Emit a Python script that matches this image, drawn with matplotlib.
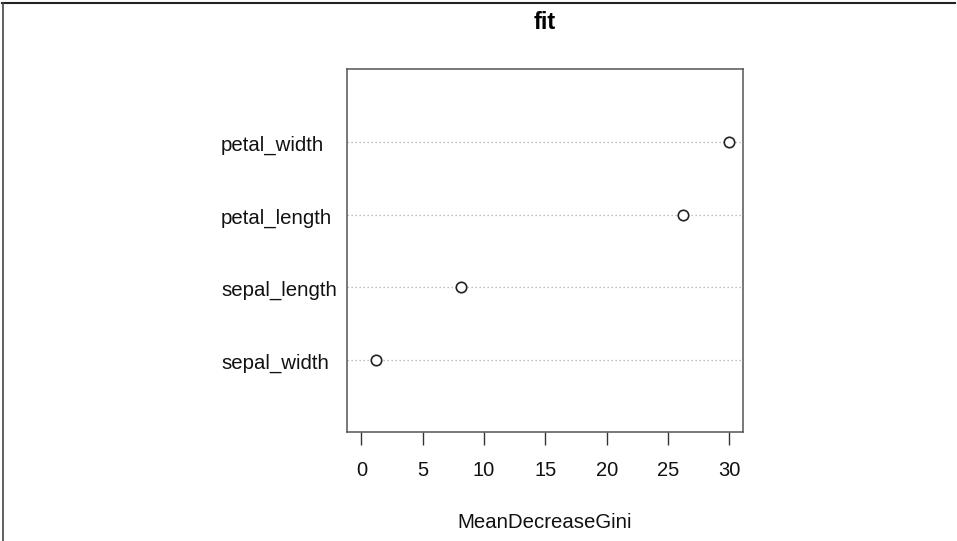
import matplotlib.pyplot as plt
import matplotlib.transforms as mtransforms
from matplotlib.lines import Line2D

plt.rcParams['font.family'] = ['Liberation Sans', 'DejaVu Sans']

# variable importance (bottom to top, as drawn)
features = ['sepal_width', 'sepal_length', 'petal_length', 'petal_width']
gini = [1.2, 8.1, 26.2, 29.93]
xticks = [0, 5, 10, 15, 20, 25, 30]

fig = plt.figure(figsize=(9.57, 5.41), dpi=100)
ax = fig.add_axes([0.3623, 0.2009, 0.4144, 0.6710])

ypos = list(range(1, len(features) + 1))

# dotted guide lines
for y in ypos:
    ax.axhline(y, color='#aaaaaa', lw=0.9, ls=(0, (1, 2.2)), zorder=1)

ax.plot(gini, ypos, 'o', ms=7.5, mfc='white', mec='#222222', mew=1.2, zorder=3)

# R style limits: 4% padding around [0, max]
hi = max(gini)
ax.set_xlim(-0.04 * hi, 1.04 * hi)
ax.set_ylim(0, len(features) + 1)

ax.set_xticks(xticks)
ax.set_xticklabels([str(t) for t in xticks], fontsize=14.5, color='#111111')
ax.tick_params(axis='x', length=9, width=1, color='#333333', pad=12)
ax.set_yticks([])
for s in ax.spines.values():
    s.set_color('#555555')
    s.set_linewidth(1.1)

# left aligned labels like dotchart
trans = mtransforms.blended_transform_factory(fig.transFigure, ax.transData)
trans = trans + mtransforms.ScaledTranslation(0, -6.5 / 72, fig.dpi_scale_trans)
for name, y in zip(features, ypos):
    fig.text(221 / 957, y, name, transform=trans, ha='left', va='baseline',
             fontsize=14.7, color='#111111')

fig.text(0.5693, 1 - 29 / 541, 'fit', ha='center', va='baseline',
         fontsize=17, fontweight='bold')
fig.text(0.5693, 1 - 522 / 541, 'MeanDecreaseGini', ha='center', va='center',
         fontsize=14.7, color='#111111')

# thin frame on top and left edges of the picture
fig.add_artist(Line2D([2 / 957, 955 / 957], [1 - 3 / 541, 1 - 3 / 541],
                      transform=fig.transFigure, color='#222222', lw=1.5))
fig.add_artist(Line2D([3 / 957, 3 / 957], [0, 1 - 3 / 541],
                      transform=fig.transFigure, color='#444444', lw=1.2))

fig.savefig('out.png', dpi=100)
